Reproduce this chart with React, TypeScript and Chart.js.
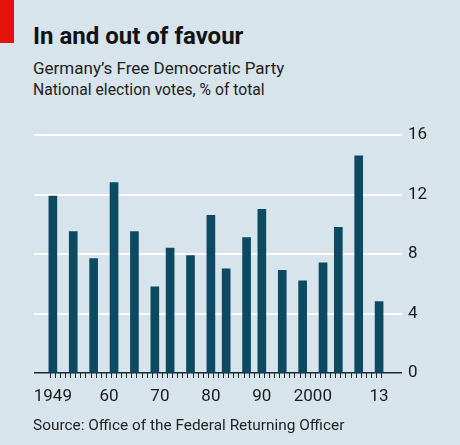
import React, { useEffect, useRef } from "react";
import { Chart, registerables } from "chart.js";
Chart.register(...registerables);

const years = [1949, 1953, 1957, 1961, 1965, 1969, 1972, 1976, 1980, 1983, 1987, 1990, 1994, 1998, 2002, 2005, 2009, 2013];
const votes = [11.9, 9.5, 7.7, 12.8, 9.5, 5.8, 8.4, 7.9, 10.6, 7.0, 9.1, 11.0, 6.9, 6.2, 7.4, 9.8, 14.6, 4.8];
const yTicks = [0, 4, 8, 12, 16];
const xLabels: Record<number, string> = { 1949: "1949", 1960: "60", 1970: "70", 1980: "80", 1990: "90", 2000: "2000", 2013: "13" };

const FONT = "Roboto, 'Noto Sans', sans-serif";

export default function App() {
  const ref = useRef<HTMLCanvasElement>(null);
  useEffect(() => {
    const canvas = ref.current!;
    Chart.defaults.font.family = FONT;
    const chart = new Chart(canvas, {
      type: "bar",
      data: {
        datasets: [
          {
            data: years.map((y, i) => ({ x: y, y: votes[i] })),
            backgroundColor: "#0b4a60",
            barThickness: 8,
          },
        ],
      },
      options: {
        animation: false,
        responsive: false,
        layout: { padding: { left: 34, top: 135, right: 0, bottom: 0 } },
        plugins: { legend: { display: false }, tooltip: { enabled: false } },
        scales: {
          x: {
            type: "linear",
            min: 1945.3,
            max: 2017.1,
            offset: false,
            afterBuildTicks: (s: any) => {
              const t = [];
              for (let y = 1949; y <= 2013; y++) t.push({ value: y });
              s.ticks = t;
            },
            afterFit: (s: any) => {
              s.height = 72;
            },
            ticks: {
              autoSkip: false,
              maxRotation: 0,
              padding: 9,
              color: "#1a1a1a",
              font: { size: 17 },
              callback: (v: any) => xLabels[v] ?? "",
            },
            grid: { drawOnChartArea: false, drawTicks: true, tickLength: 5, color: "#1a2a33", lineWidth: 1 },
            border: { display: false },
          },
          y: {
            position: "right",
            min: 0,
            max: 16,
            afterBuildTicks: (s: any) => {
              s.ticks = yTicks.map((v) => ({ value: v }));
            },
            afterFit: (s: any) => {
              s.width = 60;
            },
            ticks: { padding: 6, color: "#1a1a1a", font: { size: 17 } },
            grid: {
              color: (ctx: any) => (ctx.tick && ctx.tick.value === 0 ? "#1a2a33" : "#ffffff"),
              lineWidth: (ctx: any) => (ctx.tick && ctx.tick.value === 0 ? 1.5 : 2),
              tickLength: 2,
              drawTicks: true,
            },
            border: { display: false },
          },
        },
      },
    });
    return () => chart.destroy();
  }, []);

  return (
    <div style={{ position: "fixed", left: 0, top: 0, width: 460, height: 445, background: "#d7e4ec", overflow: "hidden", fontFamily: FONT }}>
      <div style={{ position: "absolute", left: 0, top: 0, width: 14, height: 43, background: "#e3120b" }} />
      <div style={{ position: "absolute", left: 33, top: 23.8, fontSize: 24, lineHeight: "24px", fontWeight: 700, color: "#121212", whiteSpace: "nowrap" }}>In and out of favour</div>
      <div style={{ position: "absolute", left: 33, top: 59.7, fontSize: 17, lineHeight: "17px", color: "#222", whiteSpace: "nowrap" }}>Germany’s Free Democratic Party</div>
      <div style={{ position: "absolute", left: 33, top: 81.8, fontSize: 15.7, lineHeight: "15.7px", color: "#222", whiteSpace: "nowrap" }}>National election votes, % of total</div>
      <canvas ref={ref} width={460} height={445} style={{ position: "absolute", left: 0, top: 0 }} />
      <div style={{ position: "absolute", left: 33, top: 418, fontSize: 15.4, lineHeight: "15.4px", color: "#222", whiteSpace: "nowrap" }}>Source: Office of the Federal Returning Officer</div>
    </div>
  );
}
